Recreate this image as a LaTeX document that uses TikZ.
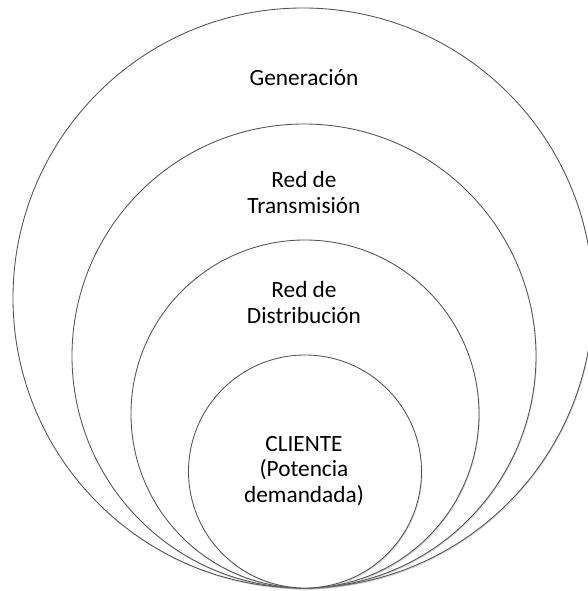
\documentclass[tikz,border=0pt]{standalone}
\usepackage{fontspec}
\setmainfont{Carlito}
\usetikzlibrary{shadows}
\begin{document}
\begin{tikzpicture}[x=1pt,y=-1pt,
  ring/.style={circle, draw=black!68, line width=0.85pt, fill=white, inner sep=0pt,
    drop shadow={opacity=0.3, shadow xshift=0.8pt, shadow yshift=-1.4pt}},
  lbl/.style={align=center, font=\fontsize{23.3}{25.3}\selectfont, text=black}]
\clip (0,0) rectangle (588,591);
\fill[white] (0,0) rectangle (588,591);
\node[ring, minimum size=580pt] (gen) at (303,298) {};
\node[ring, minimum size=464pt] (trans) at (304,356) {};
\node[ring, minimum size=348pt] (dist) at (305,414) {};
\node[ring, minimum size=233pt] (cli) at (305,471.5) {};
\node[lbl] (tgen) at (304,78) {Generación};
\node[lbl] (ttrans) at (304,192.5) {Red de\\Transmisión};
\node[lbl] (tdist) at (304,302.5) {Red de\\Distribución};
\node[lbl] (tcli) at (304,471) {CLIENTE\\(Potencia\\demandada)};
\end{tikzpicture}
\end{document}
